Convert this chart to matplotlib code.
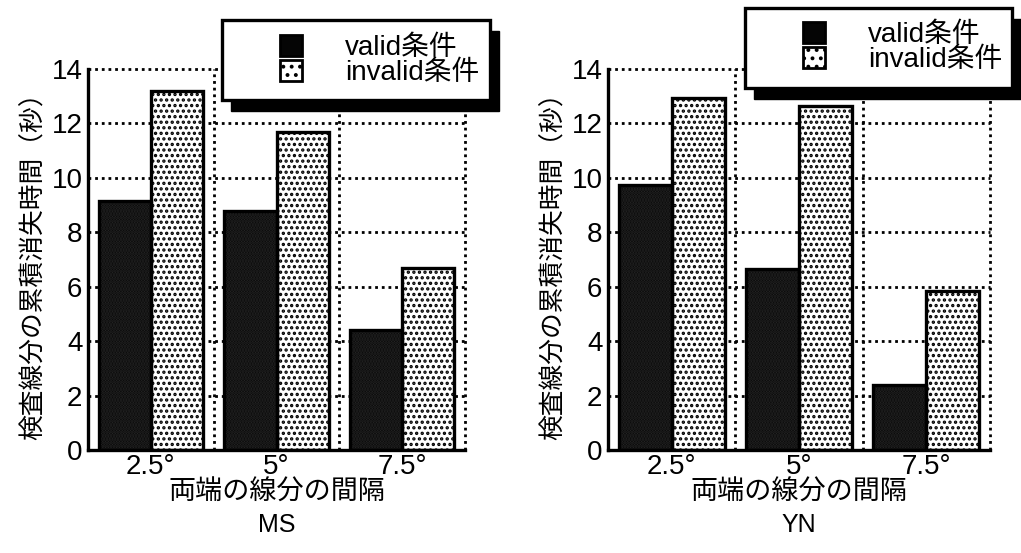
import numpy as np
import matplotlib
matplotlib.use("Agg")
import matplotlib.pyplot as plt
from matplotlib.patches import Rectangle, Patch

plt.rcParams['font.family'] = ['Liberation Sans', 'Noto Sans CJK JP', 'DejaVu Sans']
plt.rcParams['hatch.linewidth'] = 1.6

angles = ['2.5°', '5°', '7.5°']
ms_valid = [9.15, 8.8, 4.4]
ms_invalid = [13.2, 11.7, 6.7]
yn_valid = [9.75, 6.65, 2.4]
yn_invalid = [12.95, 12.65, 5.85]

series_names = ['valid条件', 'invalid条件']
panel_titles = ['MS', 'YN']
xlabel = '両端の線分の間隔'
ylabel = '検査線分の累積消失時間（秒）'

W, H = 1021, 553
fig = plt.figure(figsize=(W / 100, H / 100), dpi=100)


def px_box(x0, y0, x1, y1):
    # pixel box (top-left origin) -> figure fraction rect
    return [x0 / W, 1 - y1 / H, (x1 - x0) / W, (y1 - y0) / H]


axes = [fig.add_axes(px_box(88, 69, 465, 450)),
        fig.add_axes(px_box(608, 69, 990, 450))]
data = [(ms_valid, ms_invalid), (yn_valid, yn_invalid)]

bw = 0.415
x = np.arange(1, len(angles) + 1)

for ax, (valid, invalid), title in zip(axes, data, panel_titles):
    # dotted grid
    for yv in range(2, 15, 2):
        ax.axhline(yv, color='black', lw=2.0, ls=(0, (1, 1.4)), zorder=1, clip_on=False)
    for xv in [1.5, 2.5, 3.5]:
        ax.axvline(xv, color='black', lw=2.0, ls=(0, (1, 1.4)), zorder=1, clip_on=False)

    # valid: black with faint grey speckle
    ax.bar(x - bw / 2, valid, bw, color='#040404', edgecolor='#262626',
           hatch='......', lw=0, zorder=2)
    ax.bar(x - bw / 2, valid, bw, fill=False, edgecolor='black', lw=2.4, zorder=3)
    # invalid: white with black dots
    ax.bar(x + bw / 2, invalid, bw, color='white', edgecolor='black',
           hatch='...', lw=0, zorder=2)
    ax.bar(x + bw / 2, invalid, bw, fill=False, edgecolor='black', lw=2.4, zorder=3)

    ax.set_xlim(0.5, 3.5)
    ax.set_ylim(0, 14)
    ax.set_yticks(range(0, 15, 2))
    ax.set_xticks(x)
    ax.set_xticklabels(angles)
    ax.tick_params(axis='both', length=0, labelsize=20, colors='black')
    ax.tick_params(axis='y', pad=4)
    ax.tick_params(axis='x', pad=3)
    for s in ['top', 'right']:
        ax.spines[s].set_visible(False)
    for s in ['left', 'bottom']:
        ax.spines[s].set_linewidth(2.4)
        ax.spines[s].set_zorder(4)
    ax.set_xlabel(xlabel, fontsize=19.5, labelpad=0)
    ax.set_ylabel(ylabel, fontsize=18.5, labelpad=4)
    ax.text(0.5, -0.165, title, transform=ax.transAxes, ha='center', va='top',
            fontsize=18)

# legend boxes with shadow
handles = [Patch(facecolor='#050505', edgecolor='black', lw=2),
           Patch(facecolor='white', edgecolor='black', hatch='..', lw=2)]
for (fx0, fy0, fx1, fy1), (hx, hy) in [((222, 20, 490, 100), (280, 35)),
                                        ((745, 8, 1012, 88), (803, 22))]:
    r = px_box(fx0, fy0, fx1, fy1)
    sh = px_box(fx0 + 9, fy0 + 11, fx1 + 9, fy1 + 11)
    fig.patches.append(Rectangle((sh[0], sh[1]), sh[2], sh[3], transform=fig.transFigure,
                                 facecolor='black', edgecolor='black', zorder=3))
    fig.patches.append(Rectangle((r[0], r[1]), r[2], r[3], transform=fig.transFigure,
                                 facecolor='white', edgecolor='black', lw=2.4, zorder=4))
    fig.legend(handles, series_names, loc='upper left',
               bbox_to_anchor=(hx / W, 1 - hy / H), bbox_transform=fig.transFigure,
               frameon=False, fontsize=20, borderpad=0, borderaxespad=0,
               handlelength=0.8, handleheight=0.8, handletextpad=1.55,
               labelspacing=-0.05)

fig.savefig('out.png', dpi=100)
